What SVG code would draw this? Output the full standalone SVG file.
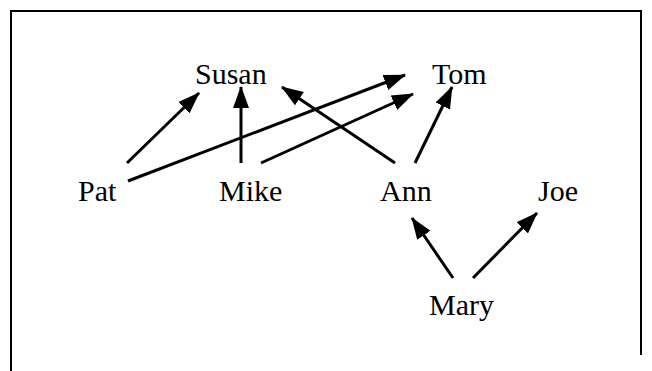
<svg xmlns="http://www.w3.org/2000/svg" width="652" height="371" viewBox="0 0 652 371">
<style>
text{font-family:"Liberation Serif","Times New Roman",serif;font-size:30px;fill:#000}
.c line{stroke:#000;stroke-width:3;marker-end:url(#ah)}
.frame{stroke:#000;stroke-width:2;fill:none}
</style>
<defs>
<marker id="ah" markerUnits="userSpaceOnUse" markerWidth="22" markerHeight="18" refX="21" refY="8" orient="auto" viewBox="0 0 22 16">
<path d="M0,0 L22,8 L0,16 z" fill="#000"/>
</marker>
</defs>
<rect width="652" height="371" fill="#fff"/>
<path class="frame" d="M11,371 V11 H641 V355"/>
<g id="susan"><text x="195" y="84">Susan</text></g>
<g id="tom"><text x="432" y="84">Tom</text></g>
<g id="pat"><text x="78" y="201">Pat</text></g>
<g id="mike"><text x="219" y="201">Mike</text></g>
<g id="ann"><text x="380" y="201">Ann</text></g>
<g id="joe"><text x="538" y="201">Joe</text></g>
<g id="mary"><text x="429" y="315">Mary</text></g>
<g class="c" id="connectors">
<line x1="127" y1="163" x2="199" y2="93"/>
<line x1="241" y1="163" x2="241" y2="87"/>
<line x1="128" y1="181" x2="405" y2="75"/>
<line x1="261" y1="163" x2="413" y2="94"/>
<line x1="395" y1="163" x2="282" y2="87"/>
<line x1="415" y1="163" x2="452" y2="87"/>
<line x1="453" y1="278" x2="412" y2="218"/>
<line x1="473" y1="278" x2="537" y2="213"/>
</g>
</svg>
